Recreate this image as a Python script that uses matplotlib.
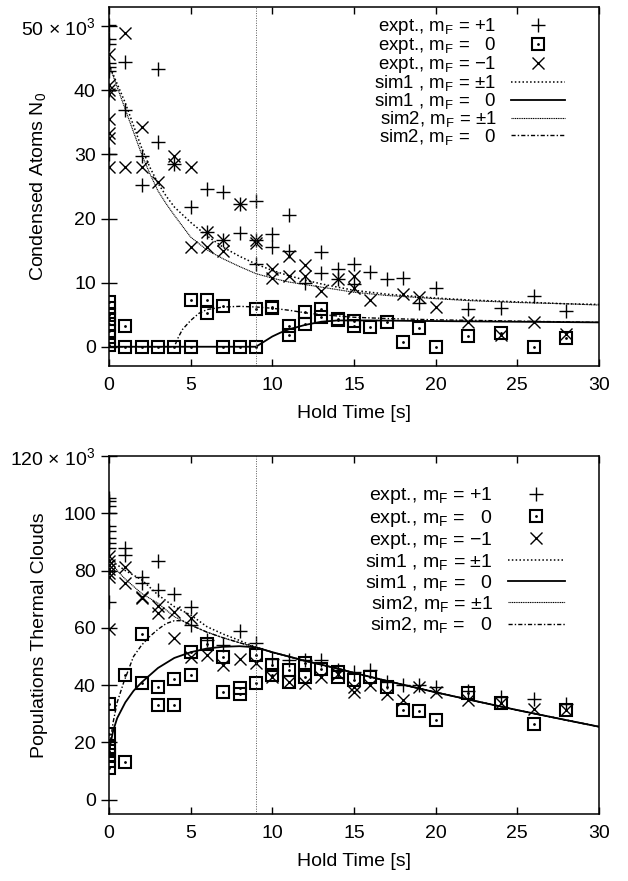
import matplotlib
matplotlib.use("Agg")
import matplotlib.pyplot as plt
from matplotlib.legend_handler import HandlerTuple

plt.rcParams['font.family'] = ['Liberation Sans', 'DejaVu Sans']
plt.rcParams['mathtext.fontset'] = 'custom'
plt.rcParams['mathtext.rm'] = 'Liberation Sans'
plt.rcParams['mathtext.it'] = 'Liberation Sans:italic'

# ---------------- data (units of 10^3 atoms, hold time in s) ----------------
# top panel: condensed atoms
top_p_t = [0, 0, 0, 0, 0, 0, 0, 0, 1, 1, 2, 2, 3, 3, 4, 5, 6, 6, 7, 7, 8, 8, 9, 9, 9,
           10, 10, 11, 11, 12, 13, 13, 14, 14, 15, 15, 16, 17, 18, 19, 20, 22, 24, 26, 28]
top_p_n = [50.2, 48.0, 47.3, 44.2, 43.6, 43.0, 40.0, 30.1, 44.4, 36.9, 29.8, 25.2, 43.3, 31.9,
           28.5, 21.8, 24.6, 17.9, 24.1, 16.6, 22.3, 17.8, 22.8, 16.7, 12.9,
           17.6, 15.6, 20.6, 15.0, 10.0, 14.7, 11.5, 12.1, 10.6, 12.9, 9.8, 11.6, 10.5, 10.7,
           6.9, 9.2, 5.9, 6.1, 7.9, 5.6]

top_z_t = [0, 0, 0, 0, 0, 0, 0, 0, 1, 1, 2, 3, 4, 5, 5, 6, 6, 7, 7, 8, 9, 9, 10, 10,
           11, 11, 12, 12, 13, 13, 14, 14, 15, 15, 16, 17, 18, 19, 20, 22, 24, 26, 28]
top_z_n = [7.0, 6.0, 5.0, 4.3, 3.5, 2.5, 1.5, 0.2, 3.3, 0, 0, 0, 0, 7.3, 0, 7.3, 5.2, 6.3, 0,
           0, 5.9, 0, 6.0, 6.2, 3.3, 1.8, 5.4, 3.5, 5.9, 4.6, 4.1, 4.3, 4.0, 3.2, 3.1, 3.8,
           0.7, 3.0, 0, 1.7, 2.2, 0, 1.4]

top_m_t = [0, 0, 0, 0, 0, 0, 0, 0, 1, 1, 2, 2, 3, 4, 4, 5, 5, 6, 6, 7, 7, 8, 9, 9,
           10, 10, 11, 11, 12, 12, 13, 14, 15, 15, 16, 18, 19, 20, 22, 24, 26, 28]
top_m_n = [45.7, 40.8, 40.0, 39.5, 35.6, 33.4, 32.5, 28.0, 49.0, 28.0, 34.3, 28.0, 25.7,
           29.8, 28.5, 28.0, 15.5, 17.9, 15.5, 16.6, 15.0, 22.3, 16.7, 16.2,
           12.2, 10.7, 14.2, 11.1, 12.7, 11.1, 8.7, 10.6, 11.1, 9.1, 7.3, 8.3, 7.7, 6.2,
           3.8, 1.8, 3.8, 2.0]

top_sim_t = [0, 0.5, 1, 1.5, 2, 2.5, 3, 3.5, 4, 5, 6, 7, 8, 9, 10, 11, 12, 13, 14, 15,
             17, 20, 22, 25, 28, 30]
top_sim1_pm = [44, 41, 38, 34.5, 31, 28, 25.5, 23.5, 21.8, 19.4, 17.3, 15.5, 14.1, 12.9,
               11.9, 11.1, 10.4, 9.8, 9.3, 8.8, 8.2, 7.6, 7.3, 7.0, 6.7, 6.6]
top_sim2_pm = [44, 40.5, 37, 33.5, 30, 27, 24.3, 22.3, 20.5, 17.1, 15.1, 13.7, 12.5, 11.4,
               10.7, 10.1, 9.7, 9.3, 8.9, 8.5, 8.0, 7.5, 7.2, 6.9, 6.7, 6.5]
top_sim1_0_t = [0, 9, 9.5, 10, 10.5, 11, 12, 13, 14, 16, 20, 25, 30]
top_sim1_0 = [0, 0, 0.8, 1.6, 2.2, 2.7, 3.4, 3.9, 4.1, 4.1, 4.0, 3.9, 3.8]
top_sim2_0_t = [0, 4, 4.25, 4.5, 5, 5.5, 6, 7, 8, 9, 10, 11, 12, 13, 14, 15, 17, 20, 25, 30]
top_sim2_0 = [0, 0, 1.5, 2.7, 4.1, 5.2, 5.8, 6.2, 6.3, 6.2, 6.0, 5.7, 5.3, 5.0, 4.8, 4.6,
              4.4, 4.2, 4.0, 3.8]

# bottom panel: thermal clouds
bot_p_t = [0, 0, 0, 0, 0, 0, 0, 0, 0, 0, 1, 1, 2, 2, 3, 3, 4, 5, 5, 6, 7, 8, 9, 10, 11,
           12, 13, 14, 15, 16, 17, 18, 19, 20, 22, 24, 26, 28]
bot_p_n = [105.4, 104.2, 102.5, 100.1, 95.4, 93.7, 91.4, 89.6, 87.9, 69.2, 87.9, 85.5,
           77.6, 75.8, 83.2, 73.2, 71.8, 67.4, 61.0, 55.7, 54.0, 59.0, 54.6, 49.3, 48.7,
           48.7, 48.7, 45.2, 44.6, 45.2, 41.1, 40.0, 40.0, 39.4, 38.0, 35.9, 35.3, 33.5]

bot_z_t = [0, 0, 0, 0, 0, 0, 0, 1, 1, 2, 2, 3, 3, 4, 4, 5, 5, 6, 7, 7, 8, 8, 9, 9, 10, 10,
           11, 11, 12, 12, 13, 14, 14, 15, 16, 17, 18, 19, 20, 22, 24, 26, 28]
bot_z_n = [33.5, 22.8, 18.5, 17.0, 15.5, 13.5, 11.0, 43.5, 13.1, 57.8, 40.6, 39.4, 32.9,
           42.0, 32.9, 51.6, 43.5, 54.5, 49.9, 37.6, 39.0, 37.0, 50.5, 40.8, 47.0, 43.5,
           45.2, 41.1, 47.7, 42.9, 45.8, 44.6, 42.9, 41.7, 42.9, 39.4, 31.2, 31.0, 27.7,
           37.3, 33.8, 26.5, 31.2]

bot_m_t = [0, 0, 0, 0, 0, 0, 0, 1, 1, 2, 2, 3, 3, 4, 4, 5, 5, 6, 7, 8, 9, 10, 11, 12, 13,
           14, 15, 15, 16, 17, 18, 19, 20, 22, 24, 26, 28]
bot_m_n = [85.0, 83.5, 82.0, 80.5, 79.0, 77.9, 59.5, 81.4, 75.6, 70.3, 70.8, 67.6, 65.1,
           65.7, 56.3, 63.6, 49.9, 50.5, 47.0, 49.3, 47.6, 42.9, 41.1, 40.6, 42.9, 44.0,
           39.4, 37.6, 40.0, 37.0, 34.7, 39.4, 37.6, 34.7, 33.8, 31.8, 31.2]

bot_sim_t = [0, 0.5, 1, 2, 3, 4, 5, 6, 7, 8, 9, 10, 12, 14, 15, 17, 20, 22, 25, 28, 30]
bot_sim1_pm = [84, 82, 80, 76.8, 71.5, 67.4, 64.5, 60.4, 57.8, 55.6, 53.2, 51.5, 48.5,
               45.8, 44.3, 41.5, 37.5, 35, 31.3, 27.8, 25.5]
bot_sim2_pm = [84, 80, 77, 72, 68.6, 63.9, 61, 58.5, 56.5, 54.8, 53.2, 51.5, 48.5, 45.8,
               44.3, 41.5, 37.5, 35, 31.3, 27.8, 25.5]
bot_sim1_0_t = [0, 0.25, 0.5, 1, 1.5, 2, 3, 4, 5, 6, 7, 8, 9, 10, 12, 14, 15, 17, 20, 22,
                25, 28, 30]
bot_sim1_0 = [17, 24, 28.5, 34, 38, 41, 46, 49.5, 51.5, 52.8, 53.4, 53.6, 53.2, 51.5, 48.5,
              45.8, 44.3, 41.5, 37.5, 35, 31.3, 27.8, 25.5]
bot_sim2_0_t = [0, 0.25, 0.5, 0.9, 1.5, 2, 2.5, 3, 3.5, 4, 4.5, 5, 6, 7, 8, 9, 10, 12, 14,
                15, 17, 20, 22, 25, 28, 30]
bot_sim2_0 = [17, 27, 34, 41, 50, 54, 57, 59.5, 61.5, 62.5, 62.5, 61, 58.5, 56.5, 54.8,
              53.2, 51.5, 48.5, 45.8, 44.3, 41.5, 37.5, 35, 31.3, 27.8, 25.5]

x_ticks = [0, 5, 10, 15, 20, 25, 30]
top_yticks = [0, 10, 20, 30, 40, 50]
top_yticklabels = ['0', '10', '20', '30', '40', r'50 $\times$ 10$^3$']
bot_yticks = [0, 20, 40, 60, 80, 100, 120]
bot_yticklabels = ['0', '20', '40', '60', '80', '100', r'120 $\times$ 10$^3$']

labels = ['expt., m$_\\mathrm{F}$ = +1', 'expt., m$_\\mathrm{F}$ =   0',
          'expt., m$_\\mathrm{F}$ = \u22121', 'sim1 , m$_\\mathrm{F}$ = \u00b11',
          'sim1 , m$_\\mathrm{F}$ =   0', 'sim2, m$_\\mathrm{F}$ = \u00b11',
          'sim2, m$_\\mathrm{F}$ =   0']

FS = 14


def draw_panel(ax, pt, pn, zt, zn, mt, mn, st, s1pm, s2pm, s10t, s10, s20t, s20,
               ylim, yticks, yticklabels, ylabel, leg_y, leg_fs, leg_sp):
    hp, = ax.plot(pt, pn, ls='none', marker='+', ms=9.5, mew=1, color='k')
    hs, = ax.plot(zt, zn, ls='none', marker='s', ms=9, mew=1.5, mfc='none', mec='k')
    hd, = ax.plot(zt, zn, ls='none', marker='.', ms=2, color='k')
    hm, = ax.plot(mt, mn, ls='none', marker='x', ms=8.5, mew=1, color='k')
    l1, = ax.plot(st, s1pm, color='k', lw=1.1, ls=(0, (1, 1.5)))
    l2, = ax.plot(s10t, s10, color='k', lw=1.3, ls='-')
    l3, = ax.plot(st, s2pm, color='k', lw=0.8, ls=(0, (1, 0.6)))
    l4, = ax.plot(s20t, s20, color='k', lw=1.0, ls=(0, (3, 1.5, 1, 1.5)))
    ax.axvline(9, color='0.35', lw=0.7, ls=(0, (1, 1.5)))

    ax.set_xlim(0, 30)
    ax.set_ylim(*ylim)
    ax.set_xticks(x_ticks)
    ax.set_yticks(yticks)
    ax.set_yticklabels(yticklabels)
    ax.tick_params(axis='x', direction='in', top=True, length=5, width=1,
                   labelsize=FS, pad=8)
    ax.tick_params(axis='y', direction='inout', length=11, width=1,
                   labelsize=FS, pad=4)
    for sp in ax.spines.values():
        sp.set_linewidth(1.1)
    ax.set_xlabel('Hold Time [s]', fontsize=FS, labelpad=8)
    ax.set_ylabel(ylabel, fontsize=FS)
    ax.yaxis.set_label_coords(-0.125, 0.5)

    ax.legend([hp, (hs, hd), hm, l1, l2, l3, l4], labels,
              handler_map={tuple: HandlerTuple(ndivide=1, pad=0)},
              loc='upper right', bbox_to_anchor=(0.95, leg_y), frameon=False,
              markerfirst=False, fontsize=leg_fs, handlelength=2.9,
              handletextpad=0.8, labelspacing=leg_sp, borderpad=0)


fig = plt.figure(figsize=(6.28, 8.81), dpi=100)
ax1 = fig.add_axes([0.1736, 0.5846, 0.780, 0.4075])
ax2 = fig.add_axes([0.1736, 0.0760, 0.780, 0.4064])

draw_panel(ax1, top_p_t, top_p_n, top_z_t, top_z_n, top_m_t, top_m_n,
           top_sim_t, top_sim1_pm, top_sim2_pm, top_sim1_0_t, top_sim1_0,
           top_sim2_0_t, top_sim2_0, (-3, 53), top_yticks, top_yticklabels,
           'Condensed Atoms N$_\\mathrm{0}$', 1.0, 13.4, -0.11)
draw_panel(ax2, bot_p_t, bot_p_n, bot_z_t, bot_z_n, bot_m_t, bot_m_n,
           bot_sim_t, bot_sim1_pm, bot_sim2_pm, bot_sim1_0_t, bot_sim1_0,
           bot_sim2_0_t, bot_sim2_0, (-5, 120), bot_yticks, bot_yticklabels,
           'Populations Thermal Clouds', 0.945, 14, 0.06)

fig.savefig('out.png', dpi=100)
